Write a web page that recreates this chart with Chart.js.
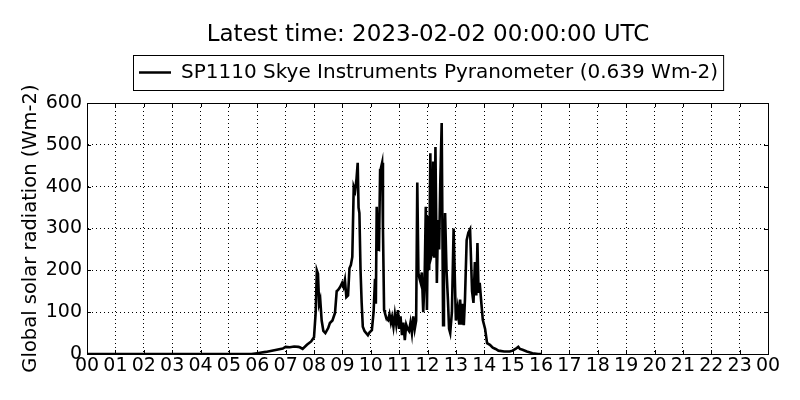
<!DOCTYPE html>
<html>
<head>
<meta charset="utf-8">
<script src="https://cdn.jsdelivr.net/npm/chart.js@4/dist/chart.umd.min.js"></script>
<style>
html,body{margin:0;padding:0;background:#fff;}
#wrap{width:800px;height:400px;position:relative;}
</style>
</head>
<body>
<div id="wrap"><canvas id="c" width="800" height="400"></canvas></div>
<script>
const titleText = "Latest time: 2023-02-02 00:00:00 UTC";
const seriesLabel = "SP1110 Skye Instruments Pyranometer (0.639 Wm-2)";
const yAxisTitle = "Global solar radiation (Wm-2)";
const yTicks = [0, 100, 200, 300, 400, 500, 600];
const xTickLabels = ["00","01","02","03","04","05","06","07","08","09","10","11","12","13","14","15","16","17","18","19","20","21","22","23","00"];

// time in hours since 00 UTC
const hours = [0, 5.8, 6.0, 6.3, 6.6, 6.9, 7.0, 7.15, 7.3, 7.45, 7.5, 7.6, 7.75, 7.9, 8.0, 8.06, 8.1, 8.14, 8.18, 8.22, 8.27, 8.33,
  8.4, 8.5, 8.56, 8.65, 8.74, 8.8, 8.85, 8.92, 8.99, 9.04, 9.09, 9.14, 9.2, 9.25, 9.3, 9.35, 9.4, 9.45, 9.5, 9.54,
  9.57, 9.6, 9.64, 9.68, 9.72, 9.78, 9.84, 9.9, 9.96, 10.04, 10.1, 10.15, 10.18, 10.21, 10.25, 10.29, 10.33, 10.36, 10.4, 10.43,
  10.47, 10.5, 10.55, 10.61, 10.66, 10.71, 10.75, 10.8, 10.85, 10.9, 10.96, 11.0, 11.05, 11.1, 11.15, 11.2, 11.25, 11.3, 11.35, 11.4,
  11.45, 11.5, 11.55, 11.6, 11.64, 11.68, 11.72, 11.76, 11.8, 11.85, 11.9, 11.94, 11.98, 12.02, 12.06, 12.1, 12.13, 12.16, 12.2, 12.24,
  12.28, 12.33, 12.37, 12.41, 12.45, 12.5, 12.55, 12.58, 12.62, 12.67, 12.72, 12.76, 12.8, 12.86, 12.92, 13.0, 13.06, 13.12, 13.15, 13.2,
  13.24, 13.28, 13.32, 13.38, 13.44, 13.5, 13.57, 13.62, 13.67, 13.72, 13.76, 13.8, 13.84, 13.9, 13.95, 14.03, 14.1, 14.2, 14.3, 14.4,
  14.5, 14.7, 14.9, 15.0, 15.1, 15.2, 15.26, 15.35, 15.5, 15.7, 15.9, 16.0, 24];
const radiation = [0, 0, 2, 5, 9, 13, 17, 16, 18, 17, 16, 12, 22, 30, 40, 100, 200, 192, 120, 130, 80, 55,
  50, 62, 74, 80, 98, 150, 153, 160, 170, 160, 177, 136, 140, 205, 213, 232, 400, 390, 420, 457,
  350, 337, 200, 122, 65, 55, 50, 45, 52, 57, 100, 180, 120, 352, 250, 249, 440, 445, 457, 300,
  105, 98, 85, 81, 95, 75, 88, 65, 95, 70, 105, 60, 90, 45, 75, 33, 70, 60, 55, 75,
  50, 90, 60, 80, 410, 193, 180, 170, 195, 100, 185, 352, 105, 330, 200, 480, 232, 240, 460, 230,
  495, 170, 320, 250, 410, 552, 69, 200, 337, 200, 130, 60, 50, 100, 300, 80, 110, 70, 130,
  70, 120, 69, 130, 272, 290, 298, 150, 122, 220, 140, 265, 146, 170, 120, 81, 60, 26, 22, 15,
  12, 8, 6, 6, 8, 12, 17, 12, 10, 6, 2, 0, 0];

const points = hours.map((h, i) => ({x: h, y: radiation[i]}));

const FONT = "'DejaVu Sans', sans-serif";

const decor = {
  id: 'decor',
  afterDraw(chart) {
    const ctx = chart.ctx;
    const a = chart.chartArea;
    const xs = chart.scales.x, ys = chart.scales.y;
    ctx.save();
    // frame
    ctx.strokeStyle = '#000';
    ctx.lineWidth = 1;
    ctx.setLineDash([]);
    ctx.strokeRect(Math.round(a.left) + 0.5, Math.round(a.top) + 0.5, Math.round(a.right - a.left), Math.round(a.bottom - a.top));
    // inward ticks
    ctx.beginPath();
    xs.ticks.forEach(t => {
      const px = Math.round(xs.getPixelForValue(t.value)) + 0.5;
      ctx.moveTo(px, a.top); ctx.lineTo(px, a.top + 4);
      ctx.moveTo(px, a.bottom); ctx.lineTo(px, a.bottom - 4);
    });
    ys.ticks.forEach(t => {
      const py = Math.round(ys.getPixelForValue(t.value)) + 0.5;
      ctx.moveTo(a.left, py); ctx.lineTo(a.left + 4, py);
      ctx.moveTo(a.right, py); ctx.lineTo(a.right - 4, py);
    });
    ctx.stroke();
    // title
    ctx.fillStyle = '#000';
    ctx.font = "23px " + FONT;
    ctx.textAlign = 'center';
    ctx.textBaseline = 'middle';
    ctx.fillText(titleText, 428, 35);
    // legend
    ctx.font = "20px " + FONT;
    ctx.textAlign = 'left';
    const tw = ctx.measureText(seriesLabel).width;
    const lx = 133, ly = 55, lh = 35;
    const lw = (181 - lx) + tw + 5;
    ctx.lineWidth = 1;
    ctx.strokeRect(lx + 0.5, ly + 0.5, lw, lh);
    ctx.lineWidth = 2.5;
    ctx.beginPath();
    ctx.moveTo(139, 72.5);
    ctx.lineTo(171, 72.5);
    ctx.stroke();
    ctx.fillText(seriesLabel, 181, 73);
    ctx.restore();
  }
};

new Chart(document.getElementById('c'), {
  type: 'line',
  data: {
    datasets: [{
      label: seriesLabel,
      data: points,
      borderColor: '#000',
      borderWidth: 2.6,
      pointRadius: 0,
      tension: 0,
      fill: false
    }]
  },
  options: {
    responsive: false,
    animation: false,
    layout: {padding: {top: 103, right: 32, bottom: 0, left: 19}},
    plugins: {legend: {display: false}, title: {display: false}, tooltip: {enabled: false}},
    scales: {
      x: {
        type: 'linear', min: 0, max: 24,
        afterBuildTicks(s) { s.ticks = xTickLabels.map((_, i) => ({value: i})); },
        afterFit(s) { s.height = 46; },
        ticks: {
          color: '#000', font: {family: FONT, size: 19}, padding: 1, maxRotation: 0, autoSkip: false,
          callback: (v) => xTickLabels[v]
        },
        grid: {color: '#000', lineWidth: 1, drawTicks: false},
        border: {display: true, color: '#000', dash: [1, 3]}
      },
      y: {
        min: 0, max: 600,
        afterBuildTicks(s) { s.ticks = yTicks.map(v => ({value: v})); },
        afterFit(s) { s.width = 68; },
        ticks: {color: '#000', font: {family: FONT, size: 19}, padding: 5},
        grid: {color: '#000', lineWidth: 1, drawTicks: false},
        border: {display: true, color: '#000', dash: [1, 3]},
        title: {display: true, text: yAxisTitle, color: '#000', font: {family: FONT, size: 19.5}, padding: {top: 0, bottom: 0}}
      }
    }
  },
  plugins: [decor]
});
</script>
</body>
</html>
